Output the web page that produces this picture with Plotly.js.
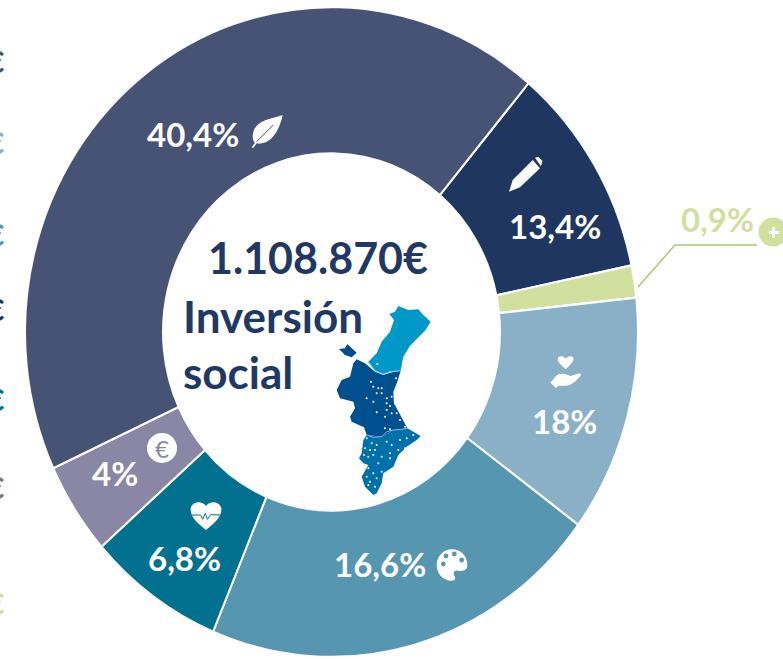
<!DOCTYPE html>
<html>
<head>
<meta charset="utf-8">
<script src="https://cdn.plot.ly/plotly-3.0.1.min.js"></script>
<style>html,body{margin:0;padding:0;background:#fff;overflow:hidden}#c{width:783px;height:659px}</style>
</head>
<body>
<div id="c"></div>
<script>
const categories = ["Educación","Otros","Acción social","Cultura","Salud","Economía","Medio ambiente"];
const sliceShares = [10.6, 1.6, 11.8, 21.2, 7.2, 4.6, 43.0];
const printedLabels = ["13,4%","0,9%","18%","16,6%","6,8%","4%","40,4%"];
const sliceColors = ["#1E3660","#D2E09F","#8AB0C7","#5796B0","#02708F","#8A86A5","#475375"];
const edgeColors = ["#475375","#8AB0C7","#5796B0","#1E3660","#02708F","#7B7B5E","#D2E09F"];
const edgeY = [61,142,234,309,399,487,603];
const labelX = [555,717,564,380,184,115,193];
const labelY = [226,219,421,564,558,473,134];

const W = 783, H = 659;
const NAVY = "#1F3864", LG = "#D2E09F";
const cx = 331.5, cy = 332, R = 306.5, stretchY = 1.06;

function path(str, ox, oy, s) {
  const toks = str.trim().split(/\s+/);
  let isX = true, out = [];
  toks.forEach(t => {
    if (/^[A-Za-z]$/.test(t)) { out.push(t); isX = true; }
    else {
      const v = parseFloat(t);
      if (isX) out.push(((ox + v / s) / W).toFixed(5));
      else out.push((1 - (oy + v / s) / H).toFixed(5));
      isX = !isX;
    }
  });
  return out.join(" ");
}
function poly(pts) { return "M " + pts.map(p => p.join(" ")).join(" L ") + " Z"; }
function line(pts) { return "M " + pts.map(p => p.join(" ")).join(" L "); }
function fillShape(d, ox, oy, s, color) {
  return {type:"path", xref:"paper", yref:"paper", path:path(d, ox, oy, s), fillcolor:color, line:{width:0}, layer:"above"};
}
function strokeShape(d, ox, oy, s, color, w) {
  return {type:"path", xref:"paper", yref:"paper", path:path(d, ox, oy, s), line:{color:color, width:w}, layer:"above"};
}
function circle(x, y, r, color) {
  return {type:"circle", xref:"paper", yref:"paper", x0:(x-r)/W, x1:(x+r)/W, y0:1-(y+r)/H, y1:1-(y-r)/H, fillcolor:color, line:{width:0}, layer:"above"};
}

const castellon = [[715,318],[745,330],[775,328],[790,345],[812,365],[795,392],[772,415],[748,440],[730,470],[722,512],[690,515],[670,522],[645,512],[625,485],[650,460],[665,425],[690,395],[702,360],[688,342],[705,335]];
const valencia = [[590,478],[615,490],[645,515],[670,525],[690,518],[722,512],[712,545],[700,575],[702,610],[718,640],[742,685],[700,690],[665,710],[620,705],[612,682],[575,665],[570,650],[585,625],[580,605],[540,595],[530,570],[545,540],[570,530],[580,490]];
const alicante = [[742,685],[782,708],[770,720],[740,740],[715,765],[700,800],[670,820],[665,850],[650,880],[640,885],[615,860],[605,830],[625,795],[610,790],[597,775],[605,760],[610,720],[620,705],[665,710],[700,690]];
const islet = [[537,447],[555,445],[562,432],[590,458],[575,472],[555,465]];
const borderA = [[620,705],[640,712],[665,710],[680,695],[700,690],[725,688],[742,685]];
const borderB = [[625,485],[645,512],[670,522],[690,515],[722,512]];
const mapDots = [[633,545],[640,560],[655,565],[665,565],[650,580],[665,580],[620,595],[640,605],[680,595],[695,590],[680,610],[690,618],[705,610],[680,630],[695,640],[650,637],[675,650],[720,660],[710,640],[675,685],[690,688],[735,680],[708,535],[652,492],[620,715],[635,730],[650,735],[615,745],[630,750],[645,750],[612,765],[625,770],[640,765],[680,725],[695,735],[720,720],[740,715],[760,705],[735,745],[715,750],[690,760],[665,770],[690,775],[655,790],[625,805],[640,820],[620,830],[650,835],[630,845],[645,860],[625,855],[665,815]];
const dotShapes = mapDots.map(p => circle(160+p[0]/3, 200+p[1]/3, 1, "#FFFFFF"));

const shapes = [
  // leader line
  {type:"path", xref:"paper", yref:"paper", path:path("M 638 287 L 675 245 L 757 245",0,0,1), line:{color:"#A9CB6B", width:1.5}, layer:"above"},
  circle(773,232,14.5,LG),
  fillShape("M 769 231 L 772 231 L 772 227 L 775 227 L 775 231 L 779 231 L 779 234 L 775 234 L 775 238 L 772 238 L 772 234 L 769 234 Z",0,0,1,"#FFFFFF"),
  // map
  fillShape(poly(castellon),160,200,3,"#0098C8"),
  fillShape(poly(valencia),160,200,3,"#00508F"),
  fillShape(poly(alicante),160,200,3,"#0070AD"),
  fillShape(poly(islet),160,200,3,"#00508F"),
  strokeShape(line(borderA),160,200,3,"#7FB6D8",1),
  strokeShape(line(borderB),160,200,3,"#7FC6E0",1),
  ...dotShapes,
  // leaf
  fillShape("M 458 45 C 420 58 385 60 372 90 C 365 108 368 122 375 128 L 365 142 L 370 144 L 380 130 C 415 135 445 105 458 45 Z",130,100,3,"#FFFFFF"),
  strokeShape("M 380 125 L 430 75",130,100,3,"#475375",1),
  // pencil
  fillShape("M 57 155 L 68 120 L 128 60 L 150 85 L 90 142 Z",490,140,3,"#FFFFFF"),
  fillShape("M 135 53 L 145 50 L 157 62 L 155 73 L 152 78 Z",490,140,3,"#FFFFFF"),
  // hand with heart
  fillShape("M 227 688 C 205 668 200 660 205 652 C 212 646 222 648 227 656 C 232 648 243 646 249 652 C 254 660 248 668 227 688 Z",490,140,3,"#FFFFFF"),
  fillShape("M 181 728 L 198 708 C 205 698 225 700 235 706 L 242 708 L 268 700 L 274 704 C 262 720 245 735 230 737 L 205 737 L 198 744 Z",490,140,3,"#FFFFFF"),
  // euro badge
  circle(162,448,15,"#FFFFFF"),
  // heart with pulse
  fillShape("M 378 330 C 345 305 330 285 332 265 C 336 245 365 240 378 258 C 391 240 420 245 424 265 C 426 285 411 305 378 330 Z",80,420,3,"#FFFFFF"),
  strokeShape("M 335 285 L 362 285 L 368 298 L 376 280 L 382 298 L 392 284 L 421 285",80,420,3,"#02708F",1),
  // palette
  fillShape("M 1115 388 C 1145 388 1162 410 1162 435 C 1162 450 1150 455 1135 452 C 1120 450 1118 462 1125 470 C 1128 480 1120 483 1110 482 C 1085 478 1070 458 1070 435 C 1070 410 1090 388 1115 388 Z",80,420,3,"#FFFFFF"),
  circle(80+1090/3,420+432/3,2.4,"#5796B0"),
  circle(80+1098/3,420+408/3,2.4,"#5796B0"),
  circle(80+1123/3,420+402/3,2.4,"#5796B0"),
  circle(80+1145/3,420+420/3,2.4,"#5796B0")
];

const font = "Lato, 'Open Sans', sans-serif";
const annotations = printedLabels.map((t,i) => ({
  text:"<b>"+t+"</b>", xref:"paper", yref:"paper", x:labelX[i]/W, y:1-labelY[i]/H,
  xanchor:"center", yanchor:"middle", showarrow:false,
  font:{family:font, size:33, color: t==="0,9%" ? LG : "#FFFFFF"}
}));
edgeColors.forEach((c,i) => annotations.push({
  text:"<b>€</b>", xref:"paper", yref:"paper", x:5.5/W, y:1-edgeY[i]/H,
  xanchor:"right", yanchor:"middle", showarrow:false, font:{family:font, size:30, color:c}
}));
annotations.push(
  {text:"€", xref:"paper", yref:"paper", x:162/W, y:1-448/H, xanchor:"center", yanchor:"middle", showarrow:false, font:{family:font, size:24, color:"#8A86A5"}},
  {text:"<b>1.108.870€</b>", xref:"paper", yref:"paper", x:317.5/W, y:1-257/H, xanchor:"center", yanchor:"middle", showarrow:false, font:{family:font, size:43, color:NAVY}},
  {text:"<b>Inversión</b>", xref:"paper", yref:"paper", x:181/W, y:1-316/H, xanchor:"left", yanchor:"middle", showarrow:false, font:{family:font, size:44, color:NAVY}},
  {text:"<b>social</b>", xref:"paper", yref:"paper", x:181/W, y:1-372/H, xanchor:"left", yanchor:"middle", showarrow:false, font:{family:font, size:44, color:NAVY}}
);

const trace = {
  type:"pie", labels:categories, values:sliceShares, sort:false, direction:"clockwise",
  rotation:40, hole:168.5/R, textinfo:"none", hoverinfo:"skip", showlegend:false,
  marker:{colors:sliceColors, line:{color:"#FFFFFF", width:2}},
  domain:{x:[(cx-R)/W,(cx+R)/W], y:[1-(cy+R)/H,1-(cy-R)/H]}
};
Plotly.newPlot("c",[trace],{
  width:W, height:H, margin:{l:0,r:0,t:0,b:0}, paper_bgcolor:"#fff", showlegend:false,
  shapes:shapes, annotations:annotations
},{displayModeBar:false, staticPlot:true}).then(() => {
  // The reference ring is an ellipse, slightly taller than wide.
  const layer = document.querySelector("#c .pielayer");
  if (layer) layer.setAttribute("transform",
    "translate(0 " + cy + ") scale(1 " + stretchY + ") translate(0 " + (-cy) + ")");
});
</script>
</body>
</html>
